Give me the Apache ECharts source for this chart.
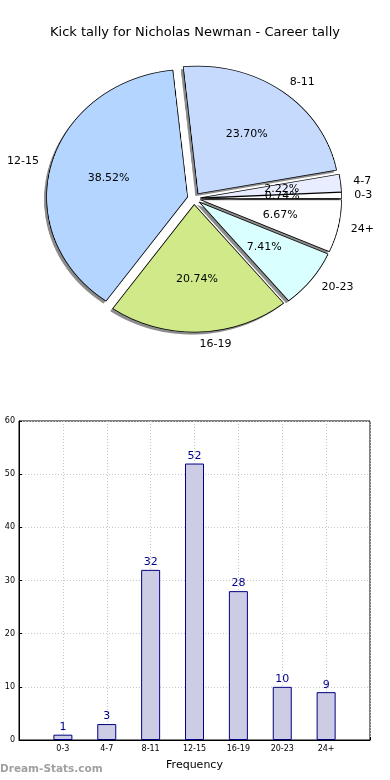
<!DOCTYPE html>
<html><head><meta charset="utf-8">
<script src="https://cdn.jsdelivr.net/npm/echarts@6/dist/echarts.min.js"></script>
<style>
html,body{margin:0;padding:0;background:#fff}
#wrap{position:relative;width:390px;height:780px;overflow:hidden}
#pie{position:absolute;left:0;top:0;width:390px;height:400px;transform-origin:194px 198.5px;transform:scaleX(1.105)}
#c{position:absolute;left:0;top:0;width:390px;height:780px}
</style>
</head><body><div id="wrap"><div id="pie"></div><div id="c"></div></div>
<script>
const titleText = 'Kick tally for Nicholas Newman - Career tally';
const categories = ['0-3', '4-7', '8-11', '12-15', '16-19', '20-23', '24+'];
const frequency = [1, 3, 32, 52, 28, 10, 9];
const sliceColors = ['#ffffff', '#e8eeff', '#c6dafe', '#b4d5ff', '#d0ea8a', '#d9ffff', '#ffffff'];
const yTicks = {min: 0, max: 60, interval: 10};

const total = frequency.reduce((a, b) => a + b, 0);
const R = 127.6;          // vertical radius
const K = 1.105;          // horizontal stretch (pie drawn as ellipse)
const C = [194, 198.5];
const OFF = 6;

const mk = (withColor) => categories.map((c, i) => {
  const d = {name: c, value: frequency[i], selected: true};
  if (withColor) d.itemStyle = {color: sliceColors[i]};
  return d;
});

const pieBase = {
  type: 'pie', radius: R, clockwise: false, startAngle: 0,
  selectedMode: 'multiple', selectedOffset: OFF,
  avoidLabelOverlap: false, emphasis: {disabled: true}, silent: true
};

// slices (stretched horizontally by CSS into an ellipse)
const pieChart = echarts.init(document.getElementById('pie'), null, {renderer: 'canvas', devicePixelRatio: 2});
pieChart.setOption({
  animation: false,
  series: [
    Object.assign({}, pieBase, {
      center: [C[0] - 2.3, C[1] + 2.5],
      data: mk(false),
      itemStyle: {color: '#8c8c8c', borderWidth: 0},
      select: {itemStyle: {color: '#8c8c8c', borderWidth: 0}},
      label: {show: false}, labelLine: {show: false}
    }),
    Object.assign({}, pieBase, {
      center: C,
      data: mk(true),
      itemStyle: {borderColor: '#000', borderWidth: 0.75},
      select: {itemStyle: {borderColor: '#000', borderWidth: 0.75}},
      label: {show: false}, labelLine: {show: false}
    })
  ]
});

function stretch(p) {
  const r = p.labelRect;
  const ax = p.align === 'left' ? r.x : (p.align === 'right' ? r.x + r.width : r.x + r.width / 2);
  return {dx: (ax - C[0]) * (K - 1)};
}

const chart = echarts.init(document.getElementById('c'), null, {renderer: 'canvas'});
chart.setOption({
  animation: false,
  title: {
    text: titleText, left: 'center', top: 21,
    textStyle: {fontFamily: 'DejaVu Sans', fontSize: 13, fontWeight: 'normal', color: '#000'}
  },
  graphic: [{
    type: 'text', left: 0, top: 764,
    style: {text: 'Dream-Stats.com', fill: '#a0a0a0', font: 'bold 10.5px "DejaVu Sans"'}
  }],
  grid: {left: 19, right: 20, top: 421, bottom: 40, show: true, borderColor: '#000', borderWidth: 1, backgroundColor: 'transparent'},
  xAxis: {
    type: 'category', boundaryGap: false,
    data: [''].concat(categories, ['']),
    name: 'Frequency', nameLocation: 'middle', nameGap: 20,
    nameTextStyle: {fontFamily: 'DejaVu Sans', fontSize: 11, color: '#000'},
    axisLine: {lineStyle: {color: '#000'}},
    axisTick: {show: true, inside: true, length: 3, lineStyle: {color: '#000'}},
    axisLabel: {fontFamily: 'DejaVu Sans', fontSize: 8, color: '#000', margin: 5, interval: 0},
    splitLine: {show: true, lineStyle: {color: '#c8c8c8', type: [1, 2]}}
  },
  yAxis: {
    type: 'value', min: yTicks.min, max: yTicks.max, interval: yTicks.interval,
    axisLine: {show: true, lineStyle: {color: '#000'}},
    axisTick: {show: true, inside: true, length: 3, lineStyle: {color: '#000'}},
    axisLabel: {fontFamily: 'DejaVu Sans', fontSize: 8, color: '#000', margin: 4},
    splitLine: {show: true, lineStyle: {color: '#c8c8c8', type: [1, 2]}}
  },
  series: [
    {
      type: 'bar',
      data: [null].concat(frequency, [null]),
      barWidth: 19,
      itemStyle: {color: '#cccce5', borderColor: '#000080', borderWidth: 1},
      label: {show: true, position: 'top', distance: 2, color: '#00008b', fontFamily: 'DejaVu Sans', fontSize: 11}
    },
    Object.assign({}, pieBase, {
      center: C,
      data: mk(false),
      itemStyle: {color: 'rgba(0,0,0,0)', borderWidth: 0},
      select: {itemStyle: {color: 'rgba(0,0,0,0)', borderWidth: 0}},
      label: {show: true, position: 'outside', color: '#000', fontFamily: 'DejaVu Sans', fontSize: 11, distanceToLabelLine: 0},
      labelLine: {show: false, length: 12, length2: 0},
      labelLayout: stretch
    }),
    Object.assign({}, pieBase, {
      center: C, radius: [R * 0.12, R],
      data: mk(false),
      itemStyle: {color: 'rgba(0,0,0,0)', borderWidth: 0},
      select: {itemStyle: {color: 'rgba(0,0,0,0)', borderWidth: 0}},
      label: {
        show: true, position: 'inside', color: '#000', fontFamily: 'DejaVu Sans', fontSize: 11,
        formatter: p => (p.value / total * 100).toFixed(2) + '%'
      },
      labelLine: {show: false},
      labelLayout: stretch
    })
  ]
});
</script></body></html>
